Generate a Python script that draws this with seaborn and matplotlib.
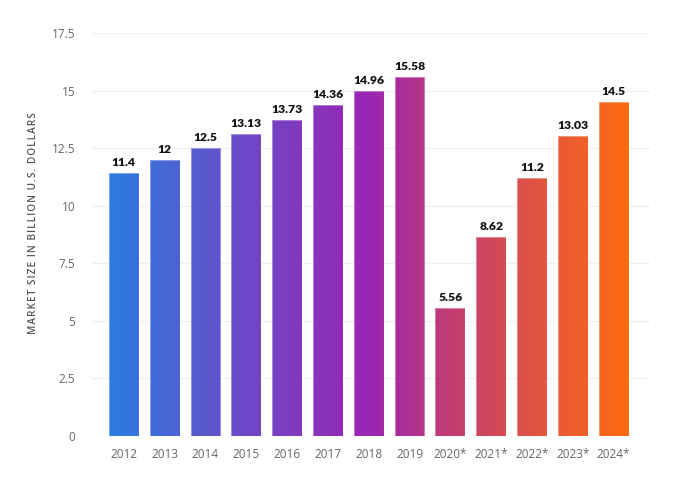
import numpy as np
import pandas as pd
import seaborn as sns
import matplotlib.pyplot as plt
from matplotlib.colors import LinearSegmentedColormap

# data
years = ["2012", "2013", "2014", "2015", "2016", "2017", "2018",
         "2019", "2020*", "2021*", "2022*", "2023*", "2024*"]
market_size = [11.4, 12, 12.5, 13.13, 13.73, 14.36, 14.96,
               15.58, 5.56, 8.62, 11.2, 13.03, 14.5]
value_labels = ["11.4", "12", "12.5", "13.13", "13.73", "14.36", "14.96",
                "15.58", "5.56", "8.62", "11.2", "13.03", "14.5"]
y_ticks = [0, 2.5, 5, 7.5, 10, 12.5, 15, 17.5]
y_tick_labels = ["0", "2.5", "5", "7.5", "10", "12.5", "15", "17.5"]

df = pd.DataFrame({"year": years, "size": market_size})

sns.set_theme(style="white")
plt.rcParams["font.family"] = ["Open Sans", "DejaVu Sans"]

fig = plt.figure(figsize=(6.89, 4.93), dpi=100)
ax = fig.add_axes([92 / 689, 1 - 436 / 493, (650 - 92) / 689, (436 - 33) / 493])

sns.barplot(data=df, x="year", y="size", ax=ax, width=0.73,
            color="white", edgecolor="none", zorder=2)

ax.set_xlim(-0.78, 12.89)
ax.set_ylim(0, 17.5)

# horizontal gradient blue -> purple -> pink -> orange, clipped to bars
cmap = LinearSegmentedColormap.from_list("grad", [
    (0.0, "#2a7ce1"),
    (0.25, "#6a4bc8"),
    (0.5, "#9a25b4"),
    (0.66, "#c23d70"),
    (0.83, "#e2553f"),
    (1.0, "#ff6b0e"),
])
grad = np.linspace(0, 1, 512).reshape(1, -1)
x0, x1 = -0.4, 12.4
for patch in ax.patches:
    im = ax.imshow(grad, cmap=cmap, aspect="auto",
                   extent=[x0, x1, 0, 17.5], zorder=3, interpolation="bilinear")
    im.set_clip_path(patch)
    patch.set_edgecolor((1, 1, 1, 0.35))
    patch.set_linewidth(0.8)
    patch.set_facecolor("none")
    patch.set_zorder(4)

ax.set_xlim(-0.78, 12.89)
ax.set_ylim(0, 17.5)

for i, (v, lab) in enumerate(zip(market_size, value_labels)):
    ax.text(i, v + 0.22, lab, ha="center", va="bottom", fontsize=8.7,
            fontweight="heavy", color="#111111", family=["Lato", "DejaVu Sans"],
            zorder=5, clip_on=False)

ax.set_yticks(y_ticks)
ax.set_yticklabels(y_tick_labels)
ax.grid(axis="y", color="#f0f0f0", linewidth=1)
ax.set_axisbelow(True)
for s in ax.spines.values():
    s.set_visible(False)
ax.tick_params(axis="both", length=0, labelsize=8.5, labelcolor="#666666")
ax.tick_params(axis="y", pad=12)
ax.tick_params(axis="x", pad=9)
ax.set_xlabel("")
ax.set_ylabel("")

# spaced-out axis title like the original
ytitle = "\u200a".join("MARKET SIZE IN BILLION U.S. DOLLARS")
fig.text(34 / 689, 1 - 223 / 493, ytitle,
         rotation=90, ha="center", va="center", fontsize=7.2,
         color="#555555", fontweight="semibold")

fig.savefig("out.png", dpi=100, facecolor="white")
